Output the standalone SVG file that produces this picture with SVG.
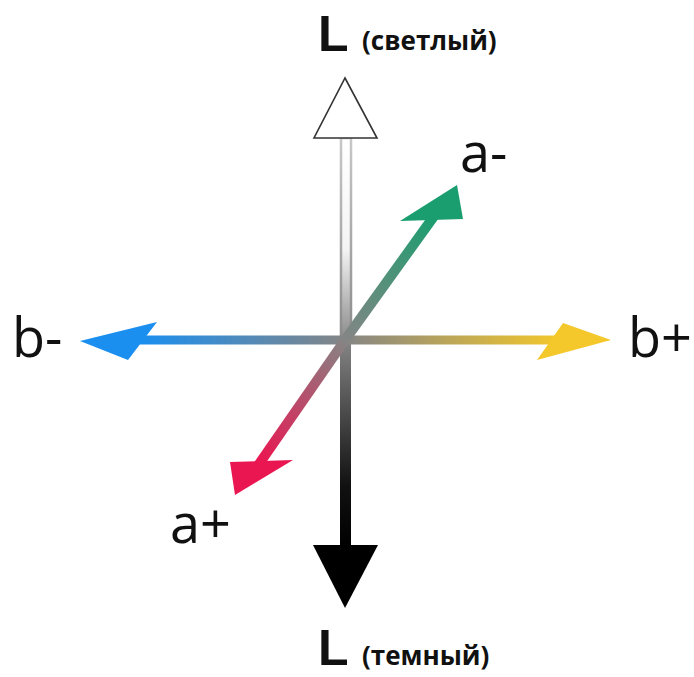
<svg xmlns="http://www.w3.org/2000/svg" width="694" height="677" viewBox="0 0 694 677">
<style>
.lbl{font-family:"Open Sans","Liberation Sans",sans-serif;font-size:54px;font-weight:400;fill:#111}
.big{font-family:"Liberation Sans",Arial,sans-serif;font-size:50px;font-weight:700;fill:#111}
.sub{font-family:"Open Sans","Liberation Sans",sans-serif;font-size:26px;font-weight:700;fill:#111}
</style>
<defs>
<linearGradient id="gTopFill" gradientUnits="userSpaceOnUse" x1="0" y1="138" x2="0" y2="340">
<stop offset="0" stop-color="#ffffff"/><stop offset="0.55" stop-color="#f4f4f4"/><stop offset="1" stop-color="#8a8a8a"/>
</linearGradient>
<linearGradient id="gTopStroke" gradientUnits="userSpaceOnUse" x1="0" y1="138" x2="0" y2="340">
<stop offset="0" stop-color="#c8c8c8"/><stop offset="1" stop-color="#8a8a8a"/>
</linearGradient>
<linearGradient id="gBot" gradientUnits="userSpaceOnUse" x1="0" y1="340" x2="0" y2="548">
<stop offset="0" stop-color="#858585"/><stop offset="0.7" stop-color="#111"/><stop offset="1" stop-color="#000"/>
</linearGradient>
<linearGradient id="gBlue" gradientUnits="userSpaceOnUse" x1="345" y1="0" x2="140" y2="0">
<stop offset="0" stop-color="#858585"/><stop offset="1" stop-color="#1a8ff0"/>
</linearGradient>
<linearGradient id="gYellow" gradientUnits="userSpaceOnUse" x1="345" y1="0" x2="560" y2="0">
<stop offset="0" stop-color="#858585"/><stop offset="1" stop-color="#f4c82a"/>
</linearGradient>
<linearGradient id="gGreen" gradientUnits="userSpaceOnUse" x1="345" y1="340" x2="432" y2="215">
<stop offset="0" stop-color="#858585"/><stop offset="1" stop-color="#1b9e6f"/>
</linearGradient>
<linearGradient id="gPink" gradientUnits="userSpaceOnUse" x1="345" y1="340" x2="260" y2="462">
<stop offset="0" stop-color="#858585"/><stop offset="1" stop-color="#ea1651"/>
</linearGradient>
</defs>
<rect width="694" height="677" fill="#ffffff"/>
<g id="connectors">
<g id="axis-L">
<rect x="341" y="138" width="10" height="204" fill="url(#gTopFill)" stroke="url(#gTopStroke)" stroke-width="2.5"/>
<polygon points="345,78 377,138 314,138" fill="#ffffff" stroke="#333" stroke-width="1.6" stroke-linejoin="miter"/>
<rect x="340" y="340" width="11" height="208" fill="url(#gBot)"/>
<polygon points="313,545 378,545 345,608" fill="#000"/>
</g>
<g id="axis-b">
<line x1="345" y1="340" x2="140" y2="340" stroke="url(#gBlue)" stroke-width="9"/>
<polygon points="80,341 157,322 128,360" fill="#1a8ff0"/>
<line x1="345" y1="340" x2="565" y2="340" stroke="url(#gYellow)" stroke-width="9"/>
<polygon points="611,340 563,323 537,360" fill="#f4c82a"/>
</g>
<g id="axis-a">
<line x1="345" y1="340" x2="437" y2="212" stroke="url(#gGreen)" stroke-width="10"/>
<polygon points="457,185 400,221 463,219" fill="#1b9e6f"/>
<line x1="345" y1="340" x2="257" y2="467" stroke="url(#gPink)" stroke-width="10"/>
<polygon points="235,495 230,462 293,460" fill="#ea1651"/>
</g>
</g>
<g id="label-L-light"><text class="big" x="318" y="51">L</text><text class="sub" x="362" y="50">(светлый)</text></g>
<g id="label-L-dark"><text class="big" x="318" y="665">L</text><text class="sub" x="362" y="665">(темный)</text></g>
<g id="label-a-minus"><text class="lbl" x="460" y="172">a-</text></g>
<g id="label-b-minus"><text class="lbl" x="12" y="357">b-</text></g>
<g id="label-b-plus"><text class="lbl" x="628" y="357">b+</text></g>
<g id="label-a-plus"><text class="lbl" x="170" y="543">a+</text></g>
</svg>
